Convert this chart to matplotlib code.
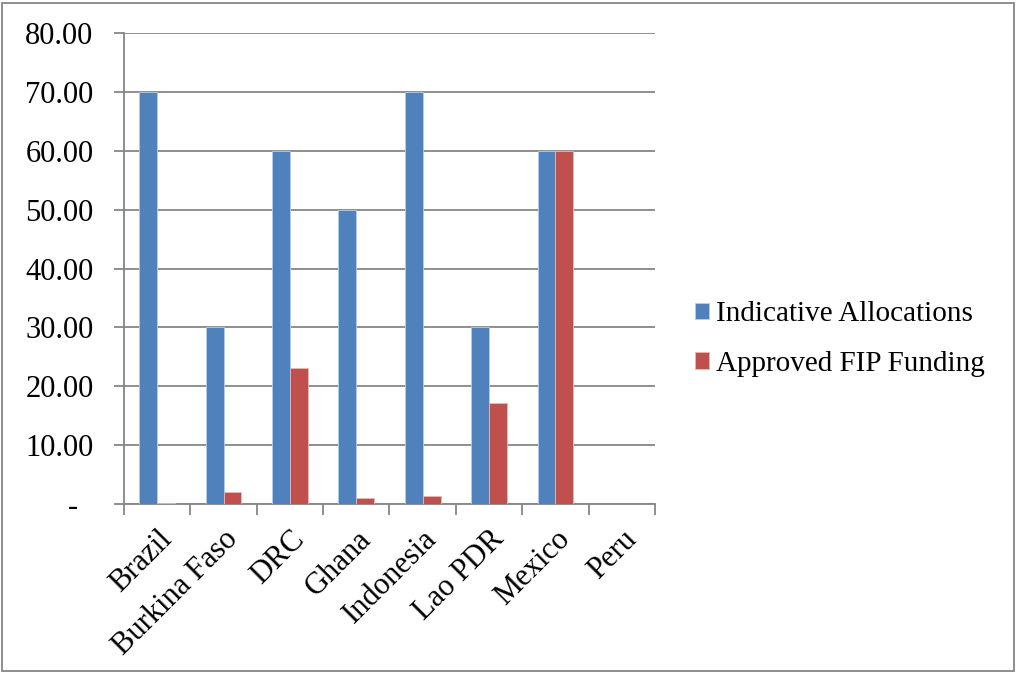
import numpy as np
import matplotlib.pyplot as plt
from matplotlib.patches import Rectangle
from matplotlib.ticker import FuncFormatter

# Data
countries = ["Brazil", "Burkina Faso", "DRC", "Ghana", "Indonesia",
             "Lao PDR", "Mexico", "Peru"]
indicative = [70, 30, 60, 50, 70, 30, 60, 0]
approved = [0.2, 2.0, 23.1, 1.0, 1.3, 17.1, 60, 0]

plt.rcParams["font.family"] = ["Liberation Serif", "DejaVu Serif"]

fig = plt.figure(figsize=(10.18, 6.73), dpi=100)
ax = fig.add_axes([124 / 1018, 1 - 504 / 673, 531 / 1018, 471 / 673])

x = np.arange(len(countries))
w = 0.27
ax.bar(x - w / 2, indicative, w, color="#4F81BD", edgecolor="#B9CDE5",
       linewidth=0.6, label="Indicative Allocations", zorder=3)
ax.bar(x + w / 2, approved, w, color="#C0504D", edgecolor="#E6B9B8",
       linewidth=0.6, label="Approved FIP Funding", zorder=3)

ax.set_xlim(-0.5, len(countries) - 0.5)
ax.set_ylim(0, 80)
ax.set_yticks(np.arange(0, 81, 10))
# accounting style: zero shown as a dash with trailing padding
ax.yaxis.set_major_formatter(FuncFormatter(lambda v, p: "-  " if v == 0 else f"{v:.2f}"))
ax.yaxis.grid(True, color="#868686", linewidth=1.3, zorder=0)

# category boundary ticks on x, labels centred on categories
ax.set_xticks(np.arange(len(countries) + 1) - 0.5)
ax.set_xticklabels([])
ax.set_xticks(x, minor=True)
ax.set_xticklabels(countries, minor=True, rotation=45, ha="right",
                   rotation_mode="anchor", fontsize=22)
ax.tick_params(axis="x", which="minor", length=0, pad=15)
ax.tick_params(axis="x", which="major", length=8, width=1.3, color="#868686")
ax.tick_params(axis="y", length=7, width=1.3, color="#868686", labelsize=22, pad=15)

for s in ["top", "right"]:
    ax.spines[s].set_visible(False)
for s in ["left", "bottom"]:
    ax.spines[s].set_color("#868686")
    ax.spines[s].set_linewidth(1.3)

ax.legend(loc="center left", bbox_to_anchor=(1.075, 0.35), frameon=False,
          fontsize=21, handlelength=0.48, handleheight=0.48, handletextpad=0.25,
          labelspacing=0.8, borderpad=0, borderaxespad=0)

# outer chart border
fig.patches.append(Rectangle((0.002, 0.003), 0.994, 0.993, transform=fig.transFigure,
                             fill=False, edgecolor="#868686", linewidth=1.3))

fig.savefig("out.png", dpi=100)
